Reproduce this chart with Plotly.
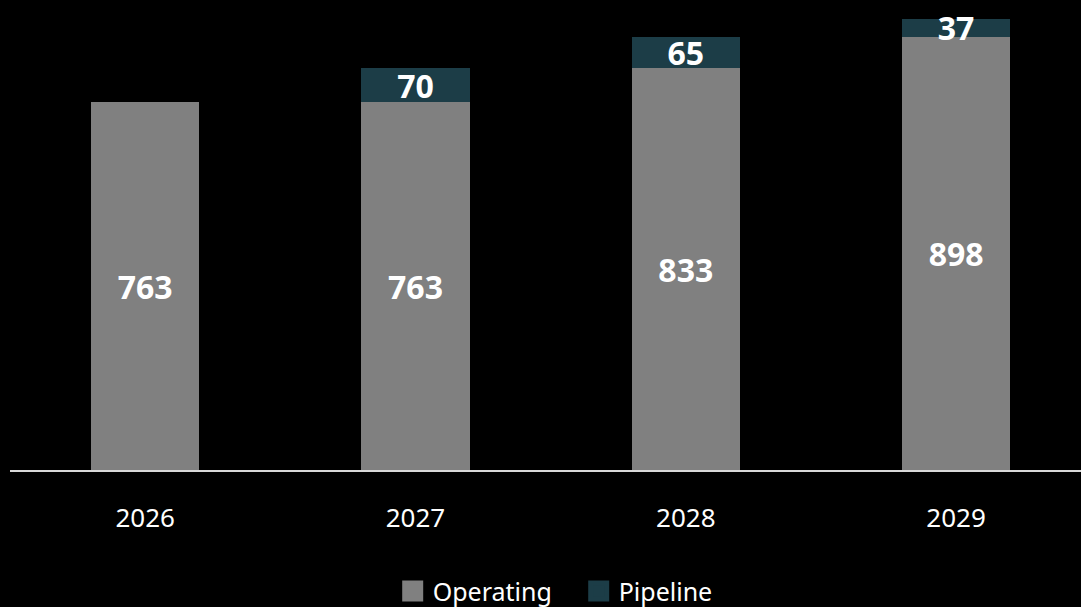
import plotly.graph_objects as go

years = ["2026", "2027", "2028", "2029"]
operating = [763, 763, 833, 898]
pipeline = [None, 70, 65, 37]

GRAY = "#808080"
TEAL = "#1c3d47"
FONT = "Noto Sans"

fig = go.Figure()
fig.add_trace(go.Bar(
    x=years, y=operating, name="Operating",
    marker=dict(color=GRAY, line=dict(width=0)),
    text=[str(v) for v in operating],
    textposition="inside", insidetextanchor="middle", textangle=0,
    constraintext="none", cliponaxis=False,
    textfont=dict(family=FONT, size=32, color="white", weight="bold"),
    showlegend=False,
))
fig.add_trace(go.Bar(
    x=years, y=pipeline, name="Pipeline",
    marker=dict(color=TEAL, line=dict(width=0)),
    text=["" if v is None else str(v) for v in pipeline],
    textposition="inside", insidetextanchor="middle", textangle=0,
    constraintext="none", cliponaxis=False,
    textfont=dict(family=FONT, size=32, color="white", weight="bold"),
    showlegend=False,
))
# legend entries
for nm, col in [("Operating", GRAY), ("Pipeline", TEAL)]:
    fig.add_trace(go.Scatter(
        x=[None], y=[None], mode="markers", name=nm,
        marker=dict(symbol="square", size=16, color=col,
                    line=dict(color=col, width=6)),
    ))

fig.update_layout(
    width=1081, height=607,
    barmode="stack", bargap=0.6,
    paper_bgcolor="black", plot_bgcolor="black",
    margin=dict(l=10, r=0, t=0, b=137, autoexpand=False),
    font=dict(family=FONT, color="white"),
    showlegend=True,
    legend=dict(
        orientation="h", x=0.531, xanchor="center",
        yref="container", y=0.026, yanchor="middle",
        font=dict(family=FONT, size=25, color="white"),
        itemsizing="trace", itemclick=False, traceorder="normal",
        entrywidth=141,
        bgcolor="rgba(0,0,0,0)",
    ),
)
fig.update_xaxes(
    type="category", range=[-0.5, 3.462],
    showline=True, linecolor="#d9d9d9", linewidth=2,
    showgrid=False, zeroline=False,
    ticks="outside", ticklen=24, tickcolor="rgba(0,0,0,0)",
    tickfont=dict(family=FONT, size=26, color="white"),
)
fig.update_yaxes(
    range=[0, 974.5], visible=False, showgrid=False, zeroline=False,
)

fig.write_html(
    "out.html",
    config={"displayModeBar": False},
    post_script="document.body.style.margin='0';document.body.style.background='black';",
)
